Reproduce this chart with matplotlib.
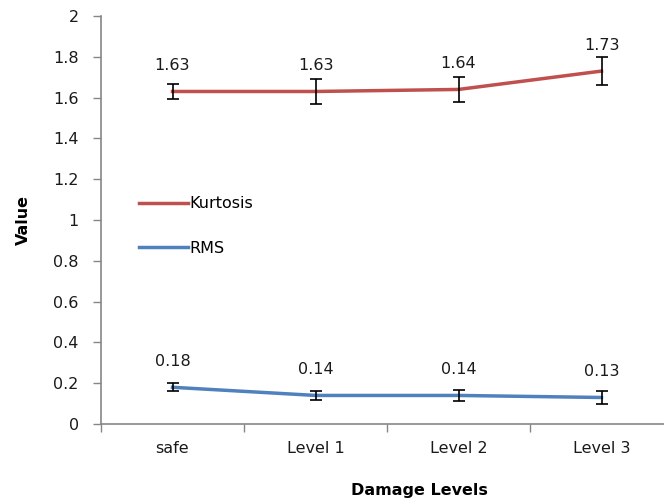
import matplotlib.pyplot as plt
import numpy as np

levels = ["safe", "Level 1", "Level 2", "Level 3"]
kurtosis = [1.63, 1.63, 1.64, 1.73]
kurtosis_err = [0.037, 0.06, 0.06, 0.07]
rms = [0.18, 0.14, 0.14, 0.13]
rms_err = [0.02, 0.022, 0.028, 0.03]

red = "#C0504D"
blue = "#4F81BD"
grey = "#868686"
ink = "#1a1a1a"
fs = 11.5

fig = plt.figure(figsize=(6.64, 5.03), dpi=100)
ax = fig.add_axes([101 / 664, 79 / 503, 572 / 664, 408 / 503])

x = np.arange(len(levels))


def draw_series(vals, errs, color, name):
    ax.plot(x, vals, color=color, lw=2.5, label=name, zorder=2)
    ax.errorbar(x, vals, yerr=errs, fmt="none", ecolor="black",
                elinewidth=1.2, capsize=4, capthick=1.2, zorder=3)
    for xi, v in zip(x, vals):
        ax.annotate(f"{v:.2f}", (xi, v), xytext=(0, 18.5), textcoords="offset points",
                    ha="center", va="center", fontsize=fs, color=ink)


draw_series(kurtosis, kurtosis_err, red, "Kurtosis")
draw_series(rms, rms_err, blue, "RMS")

ax.set_xlim(-0.5, 3.5)
ax.set_ylim(0, 2)
ax.set_yticks(np.arange(0, 2.01, 0.2))
ax.set_yticklabels(["0", "0.2", "0.4", "0.6", "0.8", "1", "1.2", "1.4", "1.6", "1.8", "2"])
ax.tick_params(axis="y", length=6, width=1, color=grey, pad=10, labelsize=fs,
               labelcolor=ink)

# category names centred, tick marks between categories
ax.set_xticks(x)
ax.set_xticklabels(levels)
ax.set_xticks(np.arange(-0.5, 3.6, 1), minor=True)
ax.tick_params(axis="x", which="major", length=0, pad=12, labelsize=fs,
               labelcolor=ink)
ax.tick_params(axis="x", which="minor", length=6, width=1, color=grey)

for side in ["top", "right"]:
    ax.spines[side].set_visible(False)
for side in ["left", "bottom"]:
    ax.spines[side].set_color(grey)
    ax.spines[side].set_linewidth(1.2)

ax.set_xlabel("Damage Levels", fontsize=fs, fontweight="bold")
ax.xaxis.set_label_coords(0.556, -0.145)
ax.set_ylabel("Value", fontsize=fs, fontweight="bold")
ax.yaxis.set_label_coords(-0.123, 0.5)

ax.legend(loc="center left", bbox_to_anchor=(0.055, 0.485), frameon=False,
          handlelength=3.05, handletextpad=0.1, labelspacing=1.85, fontsize=fs,
          borderaxespad=0)

fig.savefig("out.png", dpi=100)
